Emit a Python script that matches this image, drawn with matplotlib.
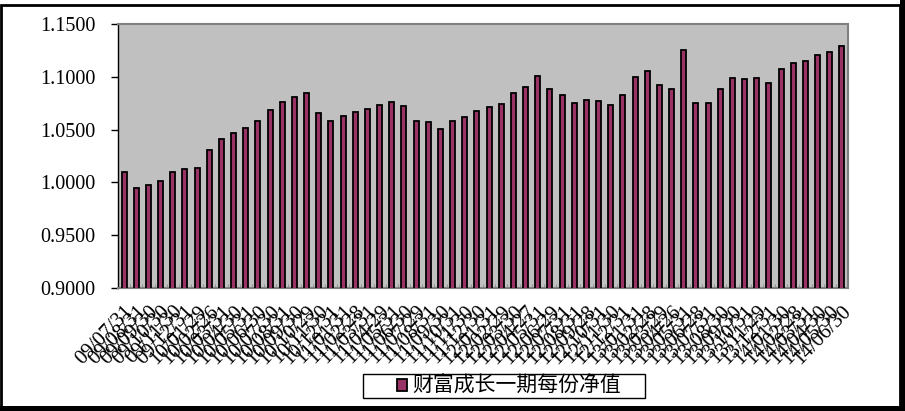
import matplotlib.pyplot as plt
from matplotlib.patches import Rectangle
from matplotlib.ticker import FixedLocator

dates = ["09/07/31", "09/08/31", "09/09/30", "09/10/30", "09/11/30", "09/12/31",
         "10/01/29", "10/02/26", "10/03/31", "10/04/30", "10/05/31", "10/06/30",
         "10/07/30", "10/08/31", "10/09/30", "10/10/29", "10/11/30", "10/12/31",
         "11/01/31", "11/02/28", "11/03/31", "11/04/29", "11/05/31", "11/06/30",
         "11/07/29", "11/08/31", "11/09/30", "11/10/31", "11/11/30", "11/12/30",
         "12/01/31", "12/02/29", "12/03/30", "12/04/27", "12/05/31", "12/06/29",
         "12/07/31", "12/08/31", "12/09/28", "12/10/31", "12/11/30", "12/12/31",
         "13/01/31", "13/02/28", "13/03/29", "13/04/26", "13/05/31", "13/06/28",
         "13/07/31", "13/08/30", "13/09/30", "13/10/31", "13/11/29", "13/12/31",
         "14/01/30", "14/02/28", "14/03/31", "14/04/30", "14/05/30", "14/06/30"]

nav = [1.0098, 0.9946, 0.9978, 1.0016, 1.0098, 1.0127, 1.0139, 1.0310, 1.0415, 1.0472,
       1.0519, 1.0585, 1.0690, 1.0766, 1.0804, 1.0842, 1.0658, 1.0585, 1.0633, 1.0671,
       1.0696, 1.0737, 1.0766, 1.0728, 1.0585, 1.0576, 1.0510, 1.0585, 1.0623, 1.0680,
       1.0718, 1.0747, 1.0842, 1.0899, 1.1003, 1.0880, 1.0823, 1.0756, 1.0785, 1.0775,
       1.0737, 1.0832, 1.0994, 1.1051, 1.0927, 1.0889, 1.1250, 1.0756, 1.0756, 1.0889,
       1.0984, 1.0975, 1.0984, 1.0937, 1.1070, 1.1130, 1.1146, 1.1203, 1.1231, 1.1288]

series_name = "财富成长一期每份净值"
yticks = [0.90, 0.95, 1.00, 1.05, 1.10, 1.15]

W, H = 905, 411
fig = plt.figure(figsize=(W / 100, H / 100), dpi=100)
fig.patch.set_facecolor("white")

ax = fig.add_axes([118 / W, (H - 288) / H, (848 - 118) / W, (288 - 24) / H])
ax.set_facecolor("#c0c0c0")

x = list(range(len(nav)))
ax.bar(x, nav, width=0.42, color="#993366", edgecolor="black", linewidth=1.3,
       label=series_name, zorder=3)

ax.set_ylim(0.9, 1.15)
ax.set_xlim(-0.5, len(nav) - 0.5)
ax.set_yticks(yticks)
ax.set_yticklabels(["%.4f" % v for v in yticks], family="Liberation Serif", fontsize=14.5)
ax.tick_params(axis="y", direction="out", length=5, width=1, color="black", pad=11)

ax.set_xticks(x)
ax.set_xticklabels(dates, family="Liberation Serif", fontsize=15,
                   rotation=46, ha="right", va="top", rotation_mode="anchor")
ax.tick_params(axis="x", which="major", length=0, pad=10)
ax.xaxis.set_minor_locator(FixedLocator([i - 0.5 for i in range(len(nav) + 1)]))
ax.tick_params(axis="x", which="minor", direction="in", length=3, color="#8c8c8c")

for s in ["top", "right", "bottom"]:
    ax.spines[s].set_color("#808080")
    ax.spines[s].set_linewidth(1.5)
ax.spines["left"].set_color("black")
ax.spines["left"].set_linewidth(1)

# legend, frame drawn separately so the padding matches
fig.legend(loc="center left", bbox_to_anchor=(397 / W, (H - 386) / H),
           prop={"family": ["Noto Sans CJK SC", "DejaVu Sans"], "size": 15},
           frameon=False, handlelength=0.5, handleheight=0.5, handletextpad=0.25,
           borderpad=0, borderaxespad=0)
fig.patches.append(Rectangle((363 / W, (H - 398) / H), (645 - 363) / W, 24 / H,
                             transform=fig.transFigure, fill=False, edgecolor="black",
                             linewidth=1))

# outer frame with shadow on right/bottom
fig.patches.append(Rectangle((1 / W, 1 / H), (W - 6) / W, (H - 6) / H, transform=fig.transFigure,
                             fill=False, edgecolor="black", linewidth=2))
fig.patches.append(Rectangle(((W - 5) / W, 0), 5 / W, 1, transform=fig.transFigure,
                             facecolor="black", edgecolor="none"))
fig.patches.append(Rectangle((0, 0), 1, 5 / H, transform=fig.transFigure,
                             facecolor="black", edgecolor="none"))

fig.savefig("out.png", dpi=100)
